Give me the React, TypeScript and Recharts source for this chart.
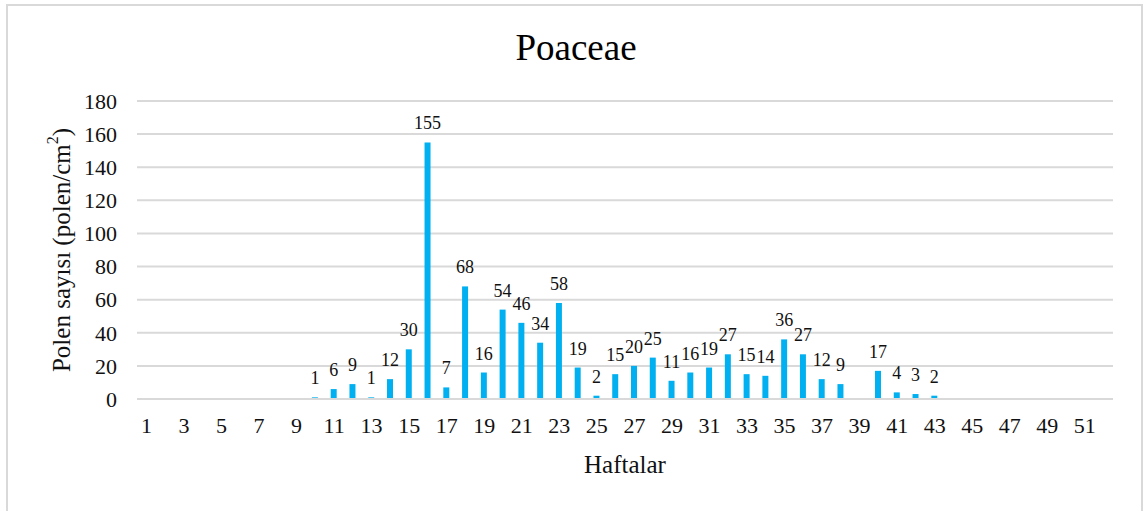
import React from 'react';
import {
	BarChart,
	Bar,
	XAxis,
	YAxis,
	CartesianGrid,
	LabelList
} from 'recharts';

// Haftalar 1..52, boş haftalar null
const weeks: number[] = Array.from({ length: 52 }, (_, i) => i + 1);
const pollenCounts: (number | null)[] = [
	null, null, null, null, null, null, null, null, null, 1,
	6, 9, 1, 12, 30, 155, 7, 68, 16, 54,
	46, 34, 58, 19, 2, 15, 20, 25, 11, 16,
	19, 27, 15, 14, 36, 27, 12, 9, null, 17,
	4, 3, 2, null, null, null, null, null, null, null,
	null, null
];
const yTicks: number[] = [0, 20, 40, 60, 80, 100, 120, 140, 160, 180];

const chartData = weeks.map((w, i) => ({ week: String(w), value: pollenCounts[i] }));

const FONT = '"Liberation Serif", "Times New Roman", serif';
const BAR_COLOR = '#00B0F0';
const GRID = '#d9d9d9';

const App: React.FC = () => {
	return (
		<div style={{ position: 'absolute', left: 0, top: 0, width: 1143, height: 511, background: '#fff', overflow: 'hidden' }}>
			<div
				style={{
					position: 'absolute',
					left: 6,
					top: 4,
					width: 1133,
					height: 520,
					border: `2px solid ${GRID}`
				}}
			/>
			<div
				style={{
					position: 'absolute',
					left: 0,
					top: 26,
					width: 1152,
					textAlign: 'center',
					fontFamily: FONT,
					fontSize: 37,
					color: '#000'
				}}
			>
				Poaceae
			</div>
			<div style={{ position: 'absolute', left: 0, top: 0 }}>
				<BarChart
					width={1143}
					height={511}
					data={chartData}
					margin={{ top: 101, right: 30, left: 0, bottom: 0 }}
					barCategoryGap={0}
				>
					<CartesianGrid vertical={false} stroke={GRID} strokeWidth={2} />
					<XAxis
						dataKey="week"
						interval={1}
						height={112}
						axisLine={{ stroke: GRID, strokeWidth: 2 }}
						tickLine={false}
						tickMargin={12}
						tick={{ fontFamily: FONT, fontSize: 22, fill: '#111' }}
						label={{
							content: (props: any) => {
								const vb = props.viewBox || {};
								return (
									<text
										x={vb.x + vb.width / 2}
										y={vb.y + 74}
										textAnchor="middle"
										fontFamily={FONT}
										fontSize={25}
										fill="#111"
									>
										Haftalar
									</text>
								);
							}
						}}
					/>
					<YAxis
						width={137}
						domain={[0, 180]}
						ticks={yTicks}
						interval={0}
						axisLine={false}
						tickLine={false}
						tickMargin={14}
						tick={{ fontFamily: FONT, fontSize: 22, fill: '#111' }}
						label={{
							content: (props: any) => {
								const vb = props.viewBox || {};
								const cx = 61;
								const cy = vb.y + vb.height / 2;
								return (
									<text
										x={cx}
										y={cy}
										textAnchor="middle"
										dominantBaseline="central"
										transform={`rotate(-90, ${cx}, ${cy})`}
										fontFamily={FONT}
										fontSize={25}
										fill="#111"
									>
										Polen sayısı (polen/cm
										<tspan baselineShift="super" fontSize={16}>2</tspan>
										)
									</text>
								);
							}
						}}
					/>
					<Bar dataKey="value" fill={BAR_COLOR} barSize={6} isAnimationActive={false}>
						<LabelList
							dataKey="value"
							position="top"
							offset={13}
							style={{ fontFamily: FONT, fontSize: 18, fill: '#111' }}
						/>
					</Bar>
				</BarChart>
			</div>
		</div>
	);
};

export default App;
